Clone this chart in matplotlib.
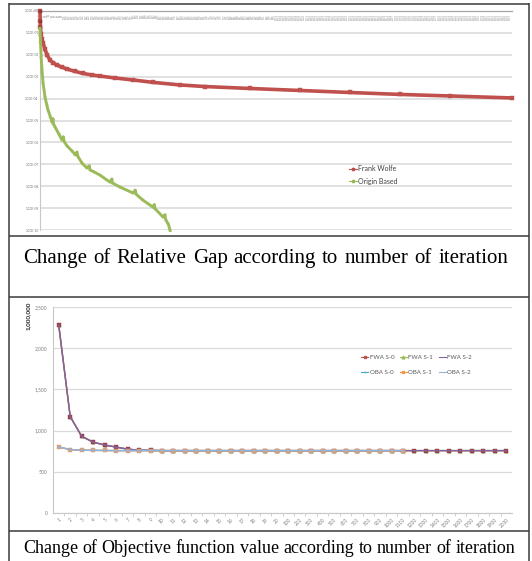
import matplotlib
matplotlib.use("Agg")
import matplotlib.pyplot as plt
from matplotlib.lines import Line2D
import numpy as np

# ---------------- data: relative gap per iteration ----------------
fw_iter = [1, 2, 3, 5, 8, 14, 22, 31, 43, 58, 73, 95, 115, 150, 183, 220, 255,
           320, 395, 480, 594, 700, 890, 1102, 1314, 1526, 1738, 2000]
fw_gap = [1.0, 3.55e-1, 1.78e-1, 8.9e-2, 5.0e-2, 3.47e-2, 1.78e-2, 1.0e-2,
          5.75e-3, 4.17e-3, 3.39e-3, 2.69e-3, 2.24e-3, 1.74e-3, 1.41e-3,
          1.20e-3, 1.07e-3, 8.7e-4, 7.1e-4, 5.5e-4, 4.2e-4, 3.55e-4, 2.9e-4,
          2.35e-4, 1.9e-4, 1.55e-4, 1.32e-4, 1.07e-4]

ob_iter = [1, 3, 6, 10, 14, 22, 30, 35, 45, 52, 56, 58, 65, 80, 94, 100, 103,
           115, 137, 150, 158, 161, 180, 200, 210, 213, 230, 255, 297, 305,
           308, 340, 395, 405, 408, 437, 480, 485, 488, 522, 530, 533, 545, 552]
ob_gap = [1.6e-1, 4.0e-2, 8.0e-3, 1.6e-3, 5.1e-4, 1.2e-4, 5.0e-5, 3.0e-5,
          1.5e-5, 8.5e-6, 1.2e-5, 7.0e-6, 5.0e-6, 2.5e-6, 1.3e-6, 1.8e-6,
          1.1e-6, 7.0e-7, 4.0e-7, 2.8e-7, 3.6e-7, 2.3e-7, 1.1e-7, 6.8e-8,
          8.5e-8, 5.5e-8, 4.5e-8, 3.2e-8, 1.55e-8, 2.1e-8, 1.4e-8, 9.1e-9,
          4.9e-9, 6.5e-9, 4.3e-9, 2.3e-9, 1.1e-9, 1.45e-9, 9.5e-10, 3.9e-10,
          5.0e-10, 3.0e-10, 1.8e-10, 9.5e-11]

gap_ticks = [1e0, 1e-1, 1e-2, 1e-3, 1e-4, 1e-5, 1e-6, 1e-7, 1e-8, 1e-9, 1e-10]

# ---------------- data: objective function value ----------------
categories = [str(i) for i in range(1, 21)] + [str(i) for i in range(100, 2001, 100)]
fwa_obj = [2280, 1170, 930, 860, 825, 800, 775, 762, 760] + [757] * 31
oba_obj = [800, 770, 762, 760, 759] + [757] * 26
obj_ticks = [0, 500, 1000, 1500, 2000, 2500]

W, H = 532, 561
fig = plt.figure(figsize=(W / 100, H / 100), dpi=100)
fig.patch.set_facecolor("white")

# ---------------- top chart ----------------
ax1 = fig.add_axes([40 / W, (H - 230) / H, 472 / W, 219 / H])
ax1.set_yscale("log")
ax1.set_ylim(1e-10, 1)
ax1.set_xlim(1, 2000)
ax1.set_yticks(gap_ticks)
ax1.set_yticklabels([f"{v:.2E}" for v in gap_ticks], fontsize=2.3,
                    color="#6f6f6f", family="Lato")
ax1.yaxis.set_minor_locator(matplotlib.ticker.NullLocator())
ax1.tick_params(axis="y", length=0, pad=1)
ax1.set_xticks([])
ax1.grid(axis="y", color="#d9d9d9", lw=1.1)
ax1.set_axisbelow(True)
for s in ("bottom", "right"):
    ax1.spines[s].set_visible(False)
ax1.spines["left"].set_color("#c8c8c8")
ax1.spines["top"].set_color("#a6a6a6")
ax1.spines["left"].set_linewidth(0.8)
ax1.spines["top"].set_linewidth(0.9)

for it in range(2, 2001, 13):
    ax1.text(it, 0.985, str(it), transform=ax1.get_xaxis_transform(),
             rotation=90, fontsize=1.8, ha="center", va="top",
             color="#8f8f8f", family="Lato")

ax1.plot(fw_iter, fw_gap, color="#C0504D", lw=2.6, marker="s", ms=2.2,
         mec="#C0504D", mew=0.3, clip_on=False, zorder=3)
ax1.plot(fw_iter[:3], fw_gap[:3], color="#8e3a3a", lw=0, marker="s", ms=2.0,
         clip_on=False, zorder=3)
ax1.plot(ob_iter, ob_gap, color="#9BBB59", lw=2.1, marker="s", ms=1.8,
         mec="#9BBB59", mew=0.3, clip_on=False, zorder=4)

# ---------------- bottom chart ----------------
ax2 = fig.add_axes([53 / W, (H - 513) / H, 459 / W, 206 / H])
x = np.arange(len(categories))
ax2.set_xlim(-0.5, len(categories) - 0.5)
ax2.set_ylim(0, 2500)
ax2.set_yticks(obj_ticks)
ax2.set_yticklabels([f"{v:,}" for v in obj_ticks], fontsize=3.6,
                    color="#7f7f7f", family="Lato")
ax2.tick_params(axis="y", length=0, pad=4)
ax2.set_xticks(x)
ax2.set_xticklabels(categories, rotation=45, ha="right",
                    rotation_mode="anchor", fontsize=3.4, color="#7f7f7f",
                    family="Lato")
ax2.tick_params(axis="x", length=0, pad=3)
ax2.set_xticks(x[:-1] + 0.5, minor=True)
ax2.tick_params(axis="x", which="minor", length=2.5, color="#c8c8c8", width=0.6)
ax2.grid(axis="y", color="#d9d9d9", lw=0.9)
ax2.set_axisbelow(True)
for s in ("top", "right"):
    ax2.spines[s].set_visible(False)
for s in ("left", "bottom"):
    ax2.spines[s].set_color("#c8c8c8")
    ax2.spines[s].set_linewidth(0.8)

xf = x[:len(fwa_obj)]
xo = x[:len(oba_obj)]
ax2.plot(xf, fwa_obj, color="#9BBB59", lw=1.0, marker="^", ms=2.0, zorder=2)
ax2.plot(xf, fwa_obj, color="#C0504D", lw=1.0, marker="s", ms=2.6,
         mfc="#a0444a", mec="#8e3a44", mew=0.3, zorder=3)
ax2.plot(xf, fwa_obj, color="#8064A2", lw=1.0, zorder=4)
ax2.plot(xo, oba_obj, color="#4BACC6", lw=1.0, zorder=5)
ax2.plot(xo, oba_obj, color="#F79646", lw=1.0, marker="s", ms=2.6,
         mfc="#dba27c", mec="#cf9a78", mew=0.3, zorder=6)
ax2.plot(xo, oba_obj, color="#95B3D7", lw=1.0, zorder=7)

# pixel-space overlay for table rules, legends and captions (drawn on top)
frame = fig.add_axes([0, 0, 1, 1])
frame.set_xlim(0, W)
frame.set_ylim(H, 0)
frame.axis("off")
frame.patch.set_alpha(0)
frame.set_zorder(10)

rule = dict(color="#3a3a3a", lw=1.1, solid_capstyle="butt")
frame.plot([8.5, 8.5], [3, H], **rule)
frame.plot([528.5, 528.5], [3, H], **rule)
for yy in (3.5, 235.5, 297.0, 530.5):
    frame.plot([8.5, 528.5], [yy, yy], **rule)

h1 = [Line2D([], [], color="#C0504D", lw=0.8, marker="*", ms=2.5),
      Line2D([], [], color="#9BBB59", lw=0.8, marker="*", ms=2.5)]
leg1 = frame.legend(h1, ["Frank Wolfe", "Origin Based"],
                    loc="center left", bbox_to_anchor=(346, 175),
                    bbox_transform=frame.transData, frameon=False,
                    prop={"family": "Lato", "size": 5}, handlelength=1.1,
                    handletextpad=0.2, labelspacing=0.75, borderpad=0,
                    labelcolor="#404040")
frame.add_artist(leg1)

h2 = [Line2D([], [], color="#C0504D", lw=0.8, marker="s", ms=2.0),
      Line2D([], [], color="#4BACC6", lw=0.8, marker="_", ms=2.0),
      Line2D([], [], color="#9BBB59", lw=0.8, marker="^", ms=2.0),
      Line2D([], [], color="#F79646", lw=0.8, marker="s", ms=2.0),
      Line2D([], [], color="#8064A2", lw=0.8),
      Line2D([], [], color="#95B3D7", lw=0.8)]
frame.legend(h2, ["FWA S-0", "OBA S-0", "FWA S-1", "OBA S-1", "FWA S-2", "OBA S-2"],
             ncol=3, loc="center left", bbox_to_anchor=(358, 365),
             bbox_transform=frame.transData, frameon=False,
             prop={"family": "Lato", "size": 4.4}, handlelength=1.2,
             handletextpad=0.2, labelspacing=1.5, columnspacing=0.9,
             borderpad=0, labelcolor="#595959")

frame.text(28, 316, "1,000,000", rotation=90, ha="center", va="center",
           fontsize=4.6, color="#262626", family="Lato", fontweight="bold")

# ---------------- justified captions ----------------
renderer = fig.canvas.get_renderer()


def justified(text, x0, x1, y, size):
    words = text.split()
    arts = [frame.text(0, y, w, fontsize=size, family="Liberation Serif",
                       va="baseline", ha="left", color="black") for w in words]
    widths = [a.get_window_extent(renderer).width for a in arts]
    gap = (x1 - x0 - sum(widths)) / (len(words) - 1)
    pos = x0
    for a, w in zip(arts, widths):
        a.set_x(pos)
        pos += w + gap


justified("Change of Relative Gap according to number of iteration",
          23, 508, 263, 15)
justified("Change of Objective function value according to number of iteration",
          23, 515, 553, 13)

fig.savefig("out.png", dpi=100)
